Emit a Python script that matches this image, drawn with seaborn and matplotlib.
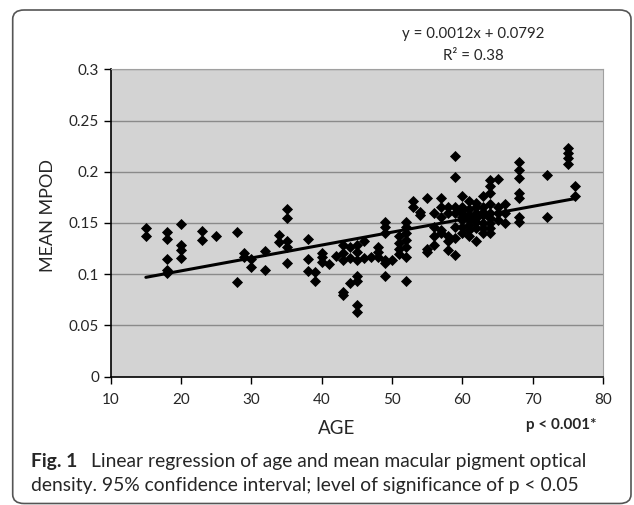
import matplotlib
matplotlib.use("Agg")
import matplotlib.pyplot as plt
import seaborn as sns
import pandas as pd
from matplotlib.patches import FancyBboxPatch

# age / mean MPOD pairs
age = [15, 15,
       18, 18, 18, 18, 18,
       20, 20, 20, 20,
       23, 23, 25, 28, 28, 29, 29, 30, 30, 32, 32, 34, 34,
       35, 35, 35, 35, 35,
       38, 38, 38, 39, 39, 40, 40, 40, 41, 42,
       43, 43, 43, 43, 43, 44, 44, 44,
       45, 45, 45, 45, 45, 45, 45,
       46, 46, 47, 48, 48, 48,
       49, 49, 49, 49, 49, 49, 50,
       51, 51, 51, 51,
       52, 52, 52, 52, 52, 52, 52,
       53, 53, 54, 54, 55, 55, 55,
       56, 56, 56, 56,
       57, 57, 57, 57, 57,
       58, 58, 58, 58, 58,
       59, 59, 59, 59, 59, 59, 59,
       60, 60, 60, 60, 60, 60, 60, 60,
       61, 61, 61, 61, 61, 61, 61,
       62, 62, 62, 62, 62, 62, 62,
       63, 63, 63, 63, 63, 63, 63,
       64, 64, 64, 64, 64, 64, 64, 64, 64,
       65, 65, 65, 65,
       66, 66, 66,
       68, 68, 68, 68, 68, 68, 68,
       72, 72,
       75, 75, 75, 75,
       76, 76]
mpod = [0.145, 0.137,
        0.141, 0.134, 0.115, 0.104, 0.101,
        0.149, 0.129, 0.124, 0.116,
        0.142, 0.133, 0.137, 0.141, 0.092, 0.121, 0.117, 0.115, 0.107, 0.123, 0.104, 0.138, 0.131,
        0.164, 0.155, 0.132, 0.127, 0.111,
        0.134, 0.115, 0.103, 0.102, 0.093, 0.121, 0.117, 0.112, 0.110, 0.118,
        0.129, 0.121, 0.114, 0.083, 0.080, 0.127, 0.116, 0.091,
        0.129, 0.122, 0.114, 0.098, 0.093, 0.070, 0.063,
        0.132, 0.116, 0.117, 0.127, 0.122, 0.117,
        0.151, 0.146, 0.140, 0.114, 0.111, 0.098, 0.114,
        0.137, 0.130, 0.125, 0.120,
        0.151, 0.146, 0.140, 0.133, 0.127, 0.117, 0.093,
        0.171, 0.166, 0.161, 0.158, 0.174, 0.125, 0.122,
        0.160, 0.146, 0.137, 0.129,
        0.174, 0.166, 0.156, 0.143, 0.140,
        0.166, 0.160, 0.137, 0.132, 0.124,
        0.215, 0.195, 0.166, 0.160, 0.146, 0.135, 0.119,
        0.176, 0.166, 0.160, 0.156, 0.153, 0.146, 0.163, 0.140,
        0.171, 0.164, 0.158, 0.153, 0.148, 0.143, 0.137,
        0.166, 0.160, 0.155, 0.151, 0.145, 0.170, 0.132,
        0.176, 0.166, 0.161, 0.158, 0.150, 0.145, 0.140,
        0.192, 0.186, 0.179, 0.169, 0.160, 0.155, 0.150, 0.145, 0.140,
        0.193, 0.166, 0.160, 0.153,
        0.169, 0.160, 0.150,
        0.210, 0.202, 0.194, 0.179, 0.174, 0.156, 0.151,
        0.197, 0.156,
        0.223, 0.218, 0.213, 0.208,
        0.186, 0.176]

x_ticks = [10, 20, 30, 40, 50, 60, 70, 80]
y_ticks = [0, 0.05, 0.1, 0.15, 0.2, 0.25, 0.3]
y_tick_labels = ["0", "0.05", "0.1", "0.15", "0.2", "0.25", "0.3"]

df = pd.DataFrame({"AGE": age, "MPOD": mpod})

sns.set_style("white")
plt.rcParams["font.family"] = ["Lato", "DejaVu Sans"]

W, H = 634, 505
fig = plt.figure(figsize=(W / 100, H / 100), dpi=100)
ax = fig.add_axes([110.7 / W, 1 - 376.7 / H, (603 - 110.7) / W, (376.7 - 69.3) / H])

ax.set_facecolor("#d3d3d3")
for y in y_ticks[1:]:
    ax.axhline(y, color="#8a8a8a", lw=1, zorder=0)

sns.regplot(data=df, x="AGE", y="MPOD", ci=None, ax=ax, color="black",
            marker="D", scatter_kws={"s": 32, "linewidths": 0, "alpha": 1, "zorder": 3},
            line_kws={"lw": 2.2, "zorder": 4})

ax.set_xlim(10, 80)
ax.set_ylim(0, 0.3)
ax.set_xticks(x_ticks)
ax.set_yticks(y_ticks)
ax.set_yticklabels(y_tick_labels)
ax.tick_params(axis="both", direction="out", length=5, width=1, color="black",
               labelsize=11, bottom=True, left=True)
ax.tick_params(axis="x", pad=7)
ax.set_xlabel("")
ax.set_ylabel("")
for side in ["top", "right"]:
    ax.spines[side].set_color("#a0a0a0")
for side in ["left", "bottom"]:
    ax.spines[side].set_color("black")
    ax.spines[side].set_linewidth(1.2)

def px(x, y):
    return x / W, 1 - y / H

fig.text(*px(48, 216), "MEAN MPOD", rotation=90, ha="center", va="center", fontsize=13)
fig.text(*px(337, 428), "AGE", ha="center", va="center", fontsize=13.5)
fig.text(*px(561, 425), "p < 0.001*", ha="center", va="center", fontsize=11, fontweight="bold")
fig.text(*px(473, 34), "y = 0.0012x + 0.0792", ha="center", va="center", fontsize=10.8)
fig.text(*px(473, 56), "R² = 0.38", ha="center", va="center", fontsize=10.8)

fig.text(*px(31, 461), "Fig. 1", ha="left", va="center", fontsize=13.9, fontweight="bold")
fig.text(*px(91, 461), "Linear regression of age and mean macular pigment optical",
         ha="left", va="center", fontsize=13.9)
fig.text(*px(31, 485), "density. 95% confidence interval; level of significance of p < 0.05",
         ha="left", va="center", fontsize=13.9)

box = FancyBboxPatch(px(12.7, 503.5), (631 - 12.7) / W, (503.5 - 10) / H,
                     boxstyle="round,pad=0,rounding_size=0.018",
                     transform=fig.transFigure, fill=False, edgecolor="#555555", lw=1.2)
fig.patches.append(box)

fig.savefig("out.png", dpi=100)
